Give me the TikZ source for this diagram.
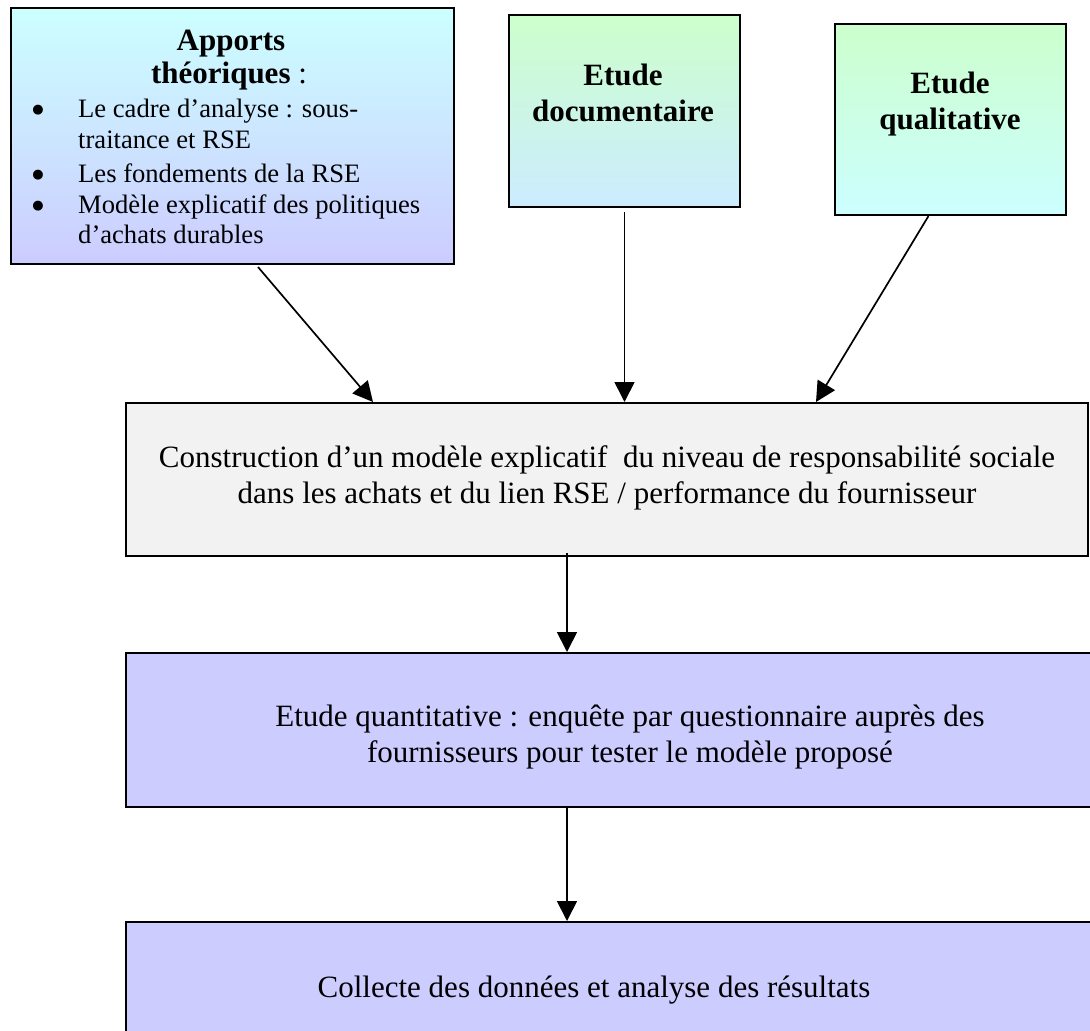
\documentclass[tikz,border=0pt]{standalone}
\usepackage{fontspec}
\setmainfont{Liberation Serif}
\newfontfamily\symfont{DejaVu Sans}
\usetikzlibrary{arrows.meta}
\definecolor{cyanL}{HTML}{CCFFFF}
\definecolor{lavL}{HTML}{CCCCFF}
\definecolor{greenL}{HTML}{CCFFCC}
\definecolor{blueL}{HTML}{CCECFF}
\definecolor{greyL}{HTML}{F2F2F2}
\newcommand\fsBig{\fontsize{31}{36}\selectfont}
\newcommand\fsSmall{\fontsize{26.6}{31}\selectfont}
\newcommand\fsBullet{\symfont\fontsize{13}{14}\selectfont}
\begin{document}
\begin{tikzpicture}[x=1pt,y=-1pt,
  boxstyle/.style={draw=black, line width=2pt, anchor=north west, inner sep=0pt},
  arr/.style={line width=1.7pt, -{Triangle[length=20pt,width=20pt]}},
  bul/.style={inner sep=0pt, anchor=center, font=\fsBullet},
  lblw/.style={inner sep=0pt, anchor=base west, font=\fsSmall},
  hd/.style={inner sep=0pt, align=center, font=\fsBig\bfseries},
  body/.style={inner sep=0pt, align=center, font=\fsBig}]
\useasboundingbox (0,0) rectangle (1090,1031);
\clip (0,0) rectangle (1090,1031);

% boxes
\node[boxstyle, top color=cyanL, bottom color=lavL, minimum width=443pt, minimum height=256pt] (apports) at (10,7) {};
\node[boxstyle, top color=greenL, bottom color=blueL, minimum width=231pt, minimum height=192pt] (doc) at (508,14) {};
\node[boxstyle, top color=greenL, bottom color=cyanL, minimum width=231pt, minimum height=191pt] (qual) at (834,23) {};
\node[boxstyle, fill=greyL, minimum width=962pt, minimum height=153pt] (constr) at (125,402) {};
\node[boxstyle, fill=lavL, minimum width=1010pt, minimum height=154pt] (quant) at (125,652) {};
\node[boxstyle, fill=lavL, minimum width=1025pt, minimum height=154pt] (collecte) at (125,921) {};

% texts of box 1
\node[inner sep=0pt, anchor=base, font=\fsBig\bfseries] (t1a) at (231,50) {Apports};
\node[inner sep=0pt, anchor=base, font=\fsBig] (t1b) at (229,83) {\textbf{théoriques} :};
\node[bul] (b1) at (38,110) {●};
\node[lblw] (l1) at (78,117) {Le cadre d’analyse : sous-};
\node[lblw] (l2) at (78,148) {traitance et RSE};
\node[bul] (b2) at (38,175) {●};
\node[lblw] (l3) at (78,182) {Les fondements de la RSE};
\node[bul] (b3) at (38,206) {●};
\node[lblw] (l4) at (78,213) {Modèle explicatif des politiques};
\node[lblw] (l5) at (78,243) {d’achats durables};

% other texts
\node[hd] (t2) at (623,93) {Etude\\documentaire};
\node[hd] (t3) at (950,104) {Etude\\qualitative};
\node[body] (t4) at (607,478) {Construction d’un modèle explicatif\ \ du niveau de responsabilité sociale\\dans les achats et du lien RSE / performance du fournisseur};
\node[body] (t5) at (630,737) {Etude quantitative : enquête par questionnaire auprès des\\fournisseurs pour tester le modèle proposé};
\node[body] (t6) at (594,990) {Collecte des données et analyse des résultats};

% connectors
\coordinate (s1) at (258,267);
\draw[arr] (s1) -- ([xshift=248pt]constr.north west);
\draw[arr] ([yshift=-4pt]doc.south) -- (doc.south |- constr.north);
\draw[arr] ([xshift=-22pt]qual.south) -- ([xshift=691pt]constr.north west);
\draw[arr] ([xshift=442pt, yshift=4pt]constr.south west) -- ([xshift=442pt]quant.north west);
\draw[arr] ([xshift=442pt]quant.south west) -- ([xshift=442pt]collecte.north west);
\end{tikzpicture}
\end{document}
